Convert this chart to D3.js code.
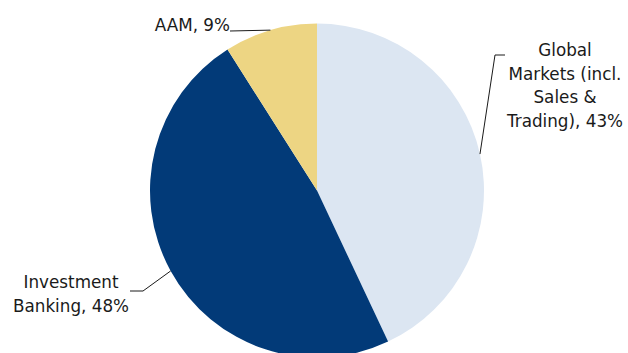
<!DOCTYPE html>
<html>
<head>
<meta charset="utf-8">
<script src="https://cdn.jsdelivr.net/npm/d3@7"></script>
<style>
  html, body { margin: 0; padding: 0; background: #fff; }
  svg { display: block; }
  text { font-family: "DejaVu Sans", sans-serif; font-size: 16.8px; fill: #1a1a1a; }
</style>
</head>
<body>
<div id="pie"></div>
<script>
// data, clockwise from 12 o'clock
const segments = ['Global Markets (incl. Sales & Trading)', 'Investment Banking', 'AAM']
const shares = [43, 48, 9]
const labelLines = [
  ['Global', 'Markets (incl.', 'Sales &', 'Trading), 43%'],
  ['Investment', 'Banking, 48%'],
  ['AAM, 9%']
]
const colors = ['#dce6f2', '#023a78', '#edd583']

const width = 628
const height = 353
const cx = 317
const cy = 190.5
const radius = 167

const svg = d3.select('#pie')
  .append('svg')
  .attr('width', width)
  .attr('height', height)

const pie = d3.pie().sort(null).value(d => d)
const arcs = pie(shares)
const arc = d3.arc().innerRadius(0).outerRadius(radius)

const g = svg.append('g').attr('transform', `translate(${cx}, ${cy})`)

g.selectAll('path')
  .data(arcs)
  .join('path')
  .attr('d', arc)
  .attr('fill', (d, i) => colors[i])

// label placement (relative to pie centre): elbow, end of leader, text anchor
const labelConf = [
  { elbow: [178, -135.5], end: [188, -135.5], x: 248, y: -134.5, anchor: 'middle' },
  { elbow: [-174, 100.5], end: [-187, 100.5], x: -246, y: 97.5, anchor: 'middle' },
  { elbow: [-87, -159.5], end: [-87, -159.5], x: -87, y: -160, anchor: 'end' }
]

const edge = d => {
  const a = (d.startAngle + d.endAngle) / 2
  return [radius * Math.sin(a), -radius * Math.cos(a)]
}

// leader lines
g.selectAll('polyline')
  .data(arcs)
  .join('polyline')
  .attr('points', (d, i) => [edge(d), labelConf[i].elbow, labelConf[i].end].map(p => p.join(',')).join(' '))
  .attr('fill', 'none')
  .attr('stroke', '#1a1a1a')
  .attr('stroke-width', 1)

// labels
const lineH = 23.7
g.selectAll('text.label')
  .data(arcs)
  .join('text')
  .attr('class', 'label')
  .attr('text-anchor', (d, i) => labelConf[i].anchor)
  .each(function (d, i) {
    const c = labelConf[i]
    d3.select(this).selectAll('tspan')
      .data(labelLines[i])
      .join('tspan')
      .attr('x', c.x)
      .attr('y', (t, j) => c.y + j * lineH)
      .text(t => t)
  })
</script>
</body>
</html>
